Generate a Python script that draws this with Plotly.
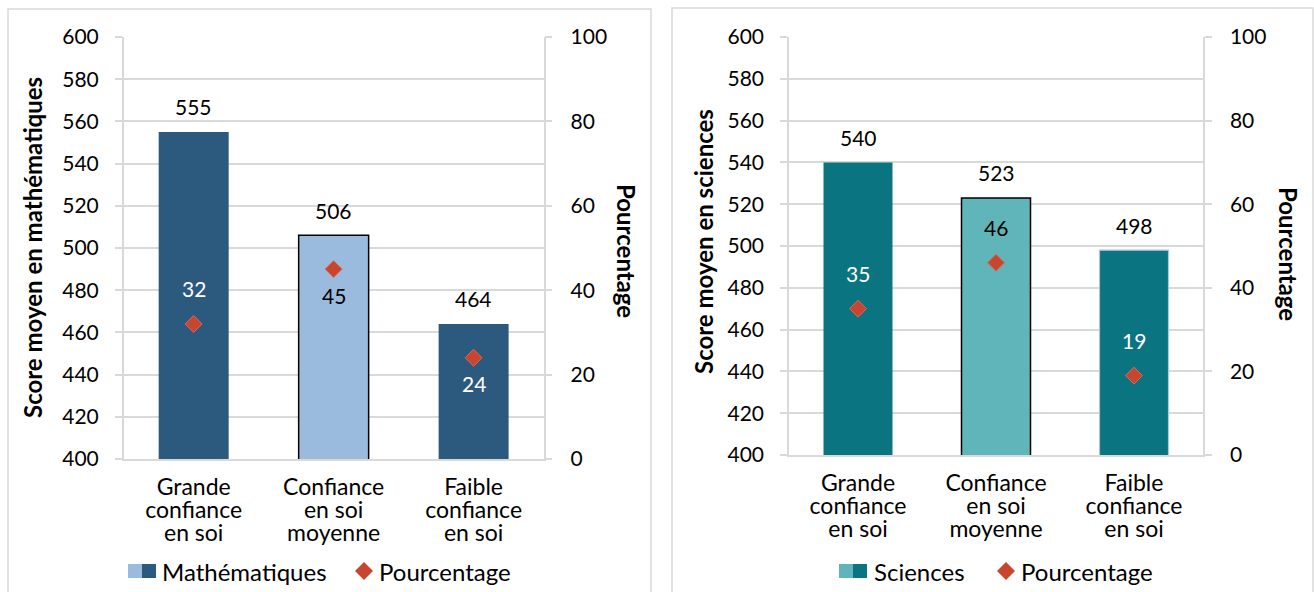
import plotly.graph_objects as go

# Confidence groups (x categories)
categories = ["Grande<br>confiance<br>en soi", "Confiance<br>en soi<br>moyenne", "Faible<br>confiance<br>en soi"]

# Mathematics panel
maths_scores = [555, 506, 464]
maths_pct = [32, 45, 24]

# Science panel
sci_scores = [540, 523, 498]
sci_pct = [35, 46, 19]

score_ticks = list(range(400, 601, 20))
pct_ticks = list(range(0, 101, 20))

W, H = 1314, 592
FONT = "Lato"
GRID = "#d9d9d9"
DIAMOND = "#C8462F"
NUM_SIZE = 21
WORD_SIZE = 24
CAT_SIZE = 23


def px(x):
    return x / W


def py(y):
    return 1 - y / H


# category tick text: large glyphs with a tighter line pitch
cat_ticktext = ["<br>".join(f"<span style='font-size:{CAT_SIZE}px'>{line}</span>"
                            for line in c.split("<br>")) for c in categories]

fig = go.Figure()

panels = [
    dict(x="x", y="y", y2="y2", scores=maths_scores, pct=maths_pct, name="Mathématiques",
         dark="#2C5A7E", light="#9BBBDE", edge3="rgba(0,0,0,0)", edge3w=0),
    dict(x="x2", y="y3", y2="y4", scores=sci_scores, pct=sci_pct, name="Sciences",
         dark="#0A7580", light="#5FB5BA", edge3="#A9C4E6", edge3w=1.2),
]

annotations = []
for p in panels:
    colors = [p["dark"], p["light"], p["dark"]]
    fig.add_trace(go.Bar(
        x=categories, y=p["scores"], xaxis=p["x"], yaxis=p["y"], width=0.5,
        marker=dict(color=colors,
                    line=dict(color=["rgba(0,0,0,0)", "#000000", p["edge3"]],
                              width=[0, 1.5, p["edge3w"]])),
        name=p["name"], showlegend=False, hoverinfo="skip",
    ))
    fig.add_trace(go.Scatter(
        x=categories, y=p["pct"], xaxis=p["x"], yaxis=p["y2"], mode="markers",
        marker=dict(symbol="diamond", size=13, color=DIAMOND,
                    line=dict(color="#D86A55", width=1)),
        name="Pourcentage", showlegend=False, hoverinfo="skip",
    ))
    # score labels above bars
    for c, s in zip(categories, p["scores"]):
        annotations.append(dict(x=c, y=s, xref=p["x"], yref=p["y"], text=str(s),
                                showarrow=False, yshift=25,
                                font=dict(family=FONT, size=NUM_SIZE, color="#000")))
    # percentage labels near diamonds
    for i, (c, v) in enumerate(zip(categories, p["pct"])):
        on_light = i == 1
        below = (p["name"] == "Mathématiques" and i in (1, 2))
        annotations.append(dict(x=c, y=v, xref=p["x"], yref=p["y2"], text=str(v),
                                showarrow=False, yshift=-26 if below else 35,
                                font=dict(family=FONT, size=NUM_SIZE,
                                          color="#000" if on_light else "#ffffff")))

axis_common = dict(showline=True, linecolor=GRID, linewidth=1.5, ticks="outside",
                   ticklen=7, tickcolor=GRID, tickwidth=1.5, automargin=False,
                   tickfont=dict(family=FONT, size=NUM_SIZE, color="#000"), fixedrange=True)
xaxis_common = dict(showline=True, linecolor=GRID, linewidth=1.5, ticks="", automargin=False,
                    tickmode="array", tickvals=categories, ticktext=cat_ticktext,
                    tickfont=dict(family=FONT, size=17.7, color="#000"),
                    ticklabelstandoff=13, fixedrange=True)

fig.update_layout(
    width=W, height=H, margin=dict(l=0, r=0, t=0, b=0, autoexpand=False),
    paper_bgcolor="white", plot_bgcolor="white", showlegend=False,
    xaxis=dict(domain=[px(123.7), px(543.6)], anchor="y", **xaxis_common),
    yaxis=dict(domain=[py(459), py(37)], range=[400, 600], tickvals=score_ticks,
               showgrid=True, gridcolor=GRID, gridwidth=1.5, anchor="x",
               ticklabelstandoff=12, **axis_common),
    yaxis2=dict(range=[0, 100], tickvals=pct_ticks, overlaying="y", side="right",
                anchor="x", showgrid=False, ticklabelstandoff=14, **axis_common),
    xaxis2=dict(domain=[px(789), px(1203)], anchor="y3", **xaxis_common),
    yaxis3=dict(domain=[py(455), py(37)], range=[400, 600], tickvals=score_ticks,
                showgrid=True, gridcolor=GRID, gridwidth=1.5, anchor="x2",
                ticklabelstandoff=12, **axis_common),
    yaxis4=dict(range=[0, 100], tickvals=pct_ticks, overlaying="y3", side="right",
                anchor="x2", showgrid=False, ticklabelstandoff=14, **axis_common),
)

# axis titles
title_font = dict(family=FONT, size=24, color="#000")
for text, x, y, ang in [("<b>Score moyen en mathématiques</b>", 33, 248, -90),
                        ("<b>Pourcentage</b>", 627, 251, 90),
                        ("<b>Score moyen en sciences</b>", 703, 242, -90),
                        ("<b>Pourcentage</b>", 1289, 254, 90)]:
    annotations.append(dict(x=px(x), y=py(y), xref="paper", yref="paper", text=text,
                            textangle=ang, showarrow=False, font=title_font,
                            xanchor="center", yanchor="middle"))

# panel frames
shapes = [
    dict(type="rect", xref="paper", yref="paper", x0=px(8), x1=px(651), y0=py(640), y1=py(9),
         line=dict(color=GRID, width=1.5)),
    dict(type="rect", xref="paper", yref="paper", x0=px(672), x1=px(1313), y0=py(640), y1=py(8),
         line=dict(color=GRID, width=1.5)),
]

# legends drawn below each panel
legend_items = [
    (128, "#9BBBDE", "#2C5A7E", "Mathématiques", 160, 364, "Pourcentage", 377),
    (839, "#5FB5BA", "#0A7580", "Sciences", 872, 1006, "Pourcentage", 1019),
]
ly = 571
for x0, light, dark, label, tx, dx, dlabel, dtx in legend_items:
    shapes.append(dict(type="rect", xref="paper", yref="paper", x0=px(x0), x1=px(x0 + 14),
                       y0=py(ly + 7), y1=py(ly - 7), fillcolor=light, line=dict(width=0)))
    shapes.append(dict(type="rect", xref="paper", yref="paper", x0=px(x0 + 14), x1=px(x0 + 28),
                       y0=py(ly + 7), y1=py(ly - 7), fillcolor=dark, line=dict(width=0)))
    r = 9
    path = (f"M {px(dx)} {py(ly - r)} L {px(dx + r)} {py(ly)} "
            f"L {px(dx)} {py(ly + r)} L {px(dx - r)} {py(ly)} Z")
    shapes.append(dict(type="path", xref="paper", yref="paper", path=path,
                       fillcolor=DIAMOND, line=dict(width=0)))
    annotations.append(dict(x=px(tx), y=py(ly), xref="paper", yref="paper", text=label,
                            xanchor="left", yanchor="middle", showarrow=False,
                            font=dict(family=FONT, size=WORD_SIZE, color="#000")))
    annotations.append(dict(x=px(dtx), y=py(ly), xref="paper", yref="paper", text=dlabel,
                            xanchor="left", yanchor="middle", showarrow=False,
                            font=dict(family=FONT, size=WORD_SIZE, color="#000")))

fig.update_layout(annotations=annotations, shapes=shapes)

fig.write_html("out.html")
